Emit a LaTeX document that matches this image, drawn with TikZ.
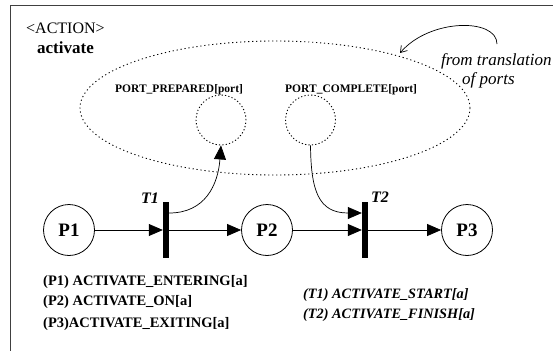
\documentclass[tikz,border=0pt]{standalone}
\usepackage{fontspec}
\setmainfont{Liberation Serif}
\usetikzlibrary{arrows.meta,shapes.geometric}
\begin{document}
\begin{tikzpicture}[x=1pt,y=-1pt,
  place/.style={circle,draw,line width=0.8pt,minimum size=51pt,inner sep=0pt,font=\fontsize{19}{21}\selectfont\bfseries},
  trans/.style={rectangle,fill=black,minimum width=6pt,minimum height=56pt,inner sep=0pt},
  portplace/.style={circle,draw,dash pattern=on 1.2pt off 2.2pt,line width=0.9pt,minimum size=50pt,inner sep=0pt},
  arr/.style={line width=0.7pt,-{Triangle[length=14pt,width=12pt]}},
  txt/.style={inner sep=0pt,anchor=base west},
  lbl/.style={txt,font=\fontsize{14.5}{16}\selectfont\bfseries},
  tlbl/.style={txt,font=\fontsize{14.3}{16}\selectfont\bfseries\itshape},
  plbl/.style={txt,font=\fontsize{11.5}{13}\selectfont\bfseries},
  note/.style={inner sep=0pt,anchor=base west,font=\fontsize{17}{19}\selectfont\itshape}]
\useasboundingbox (0,0) rectangle (553,351);
\draw[line width=1pt,black!75] (553,5) -- (10,5) -- (10,351);
\node[txt,font=\fontsize{16}{18}\selectfont] (act) at (26,33) {<ACTION>};
\node[txt,font=\fontsize{17}{19}\selectfont\bfseries] (actname) at (37,53) {activate};
% port area
\node[ellipse,draw,dash pattern=on 1.2pt off 2.8pt,line width=0.9pt,minimum width=390pt,minimum height=134pt,inner sep=0pt] (area) at (275,108) {};
\node[plbl] (ppl) at (115,92) {PORT\_PREPARED[port]};
\node[plbl] (pcl) at (285,92) {PORT\_COMPLETE[port]};
\node[portplace] (PP) at (221,120) {};
\node[portplace] (PC) at (310.5,120) {};
% annotation
\node[note] (n1) at (441,65) {from translation};
\node[note] (n2) at (462,84) {of ports};
\coordinate (nstart) at (497,44);
\coordinate (nend) at (400,53);
\draw[line width=0.7pt,-{Straight Barb[length=6pt,width=8pt]}] (nstart) .. controls (497,18) and (430,18) .. (nend);
% net
\node[place] (P1) at (69,230) {P1};
\node[place] (P2) at (267,230) {P2};
\node[place] (P3) at (467,230) {P3};
\node[trans] (T1) at (166,230) {};
\node[trans] (T2) at (365,230) {};
\node[font=\fontsize{16}{18}\selectfont\bfseries\itshape,inner sep=0pt] (T1l) at (150,198) {T1};
\node[font=\fontsize{16}{18}\selectfont\bfseries\itshape,inner sep=0pt] (T2l) at (380,197) {T2};
\draw[arr] (P1) -- (T1);
\draw[arr] (T1) -- (P2);
\draw[arr] (P2) -- (T2);
\draw[arr] (T2) -- (P3);
\draw[arr] ([yshift=17pt]T1.east) .. controls (205,213) and (218,185) .. (PP.south);
\draw[arr] (PC.south) .. controls (311,190) and (318,213) .. ([yshift=17pt]T2.west);
% legends
\node[lbl] (l1) at (43,285) {(P1) ACTIVATE\_ENTERING[a]};
\node[lbl] (l2) at (43,305) {(P2) ACTIVATE\_ON[a]};
\node[lbl] (l3) at (43,327) {(P3)ACTIVATE\_EXITING[a]};
\node[tlbl] (l4) at (303,298) {(T1) ACTIVATE\_START[a]};
\node[tlbl] (l5) at (303,318) {(T2) ACTIVATE\_FINISH[a]};
\end{tikzpicture}
\end{document}
